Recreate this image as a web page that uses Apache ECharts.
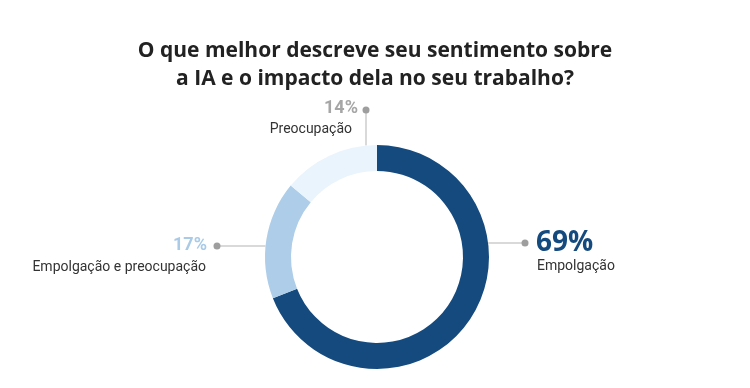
<!DOCTYPE html>
<html><head><meta charset="utf-8">
<script src="https://cdn.jsdelivr.net/npm/echarts@6/dist/echarts.min.js"></script>
<style>html,body{margin:0;padding:0;background:#fff}#c{width:750px;height:388px}</style>
</head><body><div id="c"></div>
<script>
const categories = ['Empolgação', 'Empolgação e preocupação', 'Preocupação'];
const values = [69, 17, 14];
const colors = ['#154a7e', '#aecde8', '#eaf4fc'];
const pctColors = ['#154a7e', '#a9cbe8', '#a6a6a6'];
const titleLines = ['O que melhor descreve seu sentimento sobre', 'a IA e o impacto dela no seu trabalho?'];

const chart = echarts.init(document.getElementById('c'));
const cx = 377, cy = 257, r0 = 86, r1 = 112;
const lineColor = '#cccccc', dotColor = '#9e9e9e';
function ringX(y, side){ const dy = y - cy; return cx + side * Math.sqrt(r1*r1 - dy*dy); }
function ringY(x){ const dx = x - cx; return cy - Math.sqrt(r1*r1 - dx*dx); }

const g = [];
// Empolgação (right)
{ const y = 243, xd = 525;
  g.push({type:'line', shape:{x1:ringX(y,1), y1:y, x2:xd, y2:y}, style:{stroke:lineColor, lineWidth:1.5}});
  g.push({type:'circle', shape:{cx:xd, cy:y, r:3.5}, style:{fill:dotColor}});
  g.push({type:'text', x:536, y:243, style:{text:values[0]+'%', fill:pctColors[0], font:'bold 28px "Open Sans"', textAlign:'left', textVerticalAlign:'middle'}});
  g.push({type:'text', x:537, y:266, style:{text:categories[0], fill:'#333', font:'14px Roboto', textAlign:'left', textVerticalAlign:'middle'}});
}
// Empolgação e preocupação (left)
{ const y = 246, xd = 217;
  g.push({type:'line', shape:{x1:xd, y1:y, x2:ringX(y,-1), y2:y}, style:{stroke:lineColor, lineWidth:1.5}});
  g.push({type:'circle', shape:{cx:xd, cy:y, r:3.5}, style:{fill:dotColor}});
  g.push({type:'text', x:207, y:245, style:{text:values[1]+'%', fill:pctColors[1], font:'bold 18px Roboto', textAlign:'right', textVerticalAlign:'middle'}});
  g.push({type:'text', x:206, y:267, style:{text:categories[1], fill:'#333', font:'14px Roboto', textAlign:'right', textVerticalAlign:'middle'}});
}
// Preocupação (top)
{ const x = 366, yd = 110;
  g.push({type:'line', shape:{x1:x, y1:yd, x2:x, y2:ringY(x)}, style:{stroke:lineColor, lineWidth:1.5}});
  g.push({type:'circle', shape:{cx:x, cy:yd, r:3.5}, style:{fill:dotColor}});
  g.push({type:'text', x:358, y:108, style:{text:values[2]+'%', fill:pctColors[2], font:'bold 18px Roboto', textAlign:'right', textVerticalAlign:'middle'}});
  g.push({type:'text', x:352, y:129, style:{text:categories[2], fill:'#333', font:'14px Roboto', textAlign:'right', textVerticalAlign:'middle'}});
}

chart.setOption({
  animation: false,
  title: {
    text: titleLines.join('\n'), left: 'center', top: 32,
    textStyle: {fontFamily: 'Open Sans', fontWeight: 'bold', fontSize: 21, color: '#222', lineHeight: 28}
  },
  series: [{
    type: 'pie', center: [cx, cy], radius: [r0, r1], startAngle: 90, clockwise: true,
    label: {show: false}, labelLine: {show: false}, emphasis: {disabled: true},
    itemStyle: {borderWidth: 0},
    data: categories.map((n, i) => ({name: n, value: values[i], itemStyle: {color: colors[i]}}))
  }],
  graphic: g
});
</script></body></html>
